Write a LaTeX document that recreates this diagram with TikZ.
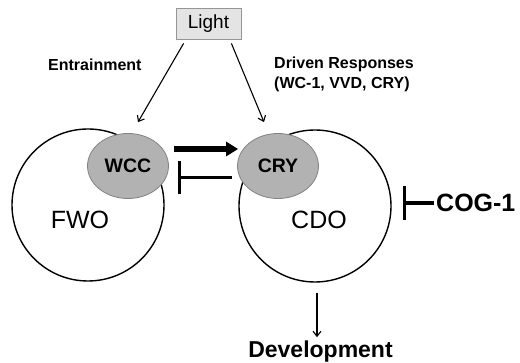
\documentclass[tikz,border=0pt]{standalone}
\usepackage{fontspec}
\setmainfont{Liberation Sans}
\usetikzlibrary{arrows.meta,shapes.geometric,calc}
\definecolor{ellfill}{RGB}{178,178,178}
\definecolor{elldraw}{RGB}{130,130,130}
\definecolor{boxfill}{RGB}{228,228,228}
\definecolor{boxdraw}{RGB}{150,150,150}
\begin{document}
\begin{tikzpicture}[x=1pt,y=-1pt,
  oscil/.style={circle, draw=black, line width=1.4pt, minimum size=152pt, inner sep=0pt},
  comp/.style={ellipse, draw=elldraw, fill=ellfill, line width=0.8pt, minimum width=81pt, minimum height=65pt, inner sep=0pt, font=\fontsize{19.5}{22}\selectfont\bfseries},
  bigtxt/.style={inner sep=0pt, font=\fontsize{25}{28}\selectfont},
  lbl/.style={inner sep=0pt, font=\fontsize{16}{19}\selectfont\bfseries},
  thin/.style={line width=1.1pt, -{Straight Barb[length=5pt,width=8pt]}},
  inhib/.style={line width=3pt, -{Bar[width=33pt]}}
]
\useasboundingbox (0,0) rectangle (520,363);
% oscillators
\node[oscil] (fwo) at (88,205) {};
\node[oscil] (cdo) at (315,206) {};
\node[bigtxt] (fwot) at (80,220) {FWO};
\node[bigtxt] (cdot) at (319,220) {CDO};
% components
\node[comp] (wcc) at (128,166) {WCC};
\node[comp] (cry) at (278,166) {CRY};
% light
\node[draw=boxdraw, fill=boxfill, line width=0.8pt, minimum width=65pt, minimum height=31pt, inner sep=0pt, font=\fontsize{19}{22}\selectfont] (light) at (208.5,23.5) {Light};
% labels
\node[lbl, anchor=base west] (entr) at (48,71) {Entrainment};
\node[lbl, anchor=north west, align=left] (driv) at (274,57) {Driven Responses\\[1pt](WC-1, VVD, CRY)};
\node[inner sep=0pt, anchor=west, font=\fontsize{25}{28}\selectfont\bfseries] (cog) at (436,203) {COG-1};
\node[inner sep=0pt, anchor=base, font=\fontsize{23}{26}\selectfont\bfseries] (dev) at (320.5,358) {Development};
% connectors
\draw[thin] ($(light.south west)+(8,4)$) -- ($(wcc.north)+(10,-11)$);
\draw[thin] ($(light.south east)+(-10,4)$) -- ($(cry.north)+(-14,-11)$);
\draw[line width=5.5pt, -{Triangle[length=12pt,width=14pt]}] ($(wcc.east)+(5,-17)$) -- ($(cry.west)+(1,-17)$);
\draw[inhib] ($(cry.west)+(-5,12)$) -- ($(wcc.east)+(9,12)$);
\draw[line width=3.2pt, -{Bar[width=34pt]}] ($(cog.west)+(-2,0)$) -- ($(cdo.east)+(11,-3)$);
\draw[thin] ($(cdo.south)+(2,10)$) -- ($(dev.north)+(-3.5,-4)$);
\end{tikzpicture}
\end{document}
